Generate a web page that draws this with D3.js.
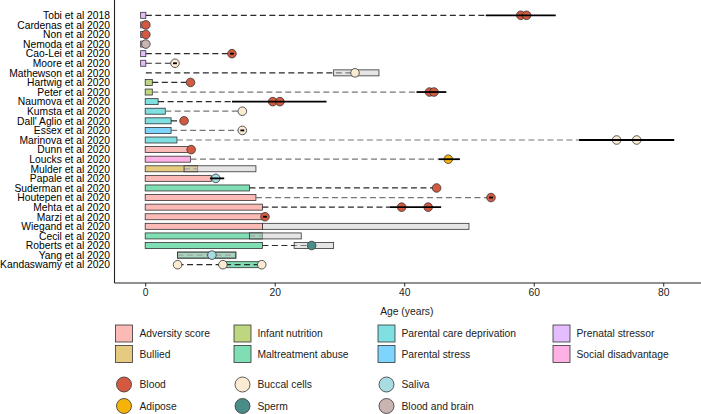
<!DOCTYPE html>
<html><head><meta charset="utf-8">
<script src="https://cdn.jsdelivr.net/npm/d3@7"></script>
<style>
body{margin:0;background:#fff;}
text{font-family:"Liberation Sans",Arial,Helvetica,sans-serif;}
</style></head><body>
<svg id="chart" width="701" height="414"></svg>
<script>
const studies = ["Tobi et al 2018","Cardenas et al 2020","Non et al 2020","Nemoda et al 2020","Cao-Lei et al 2020","Moore et al 2020","Mathewson et al 2020","Hartwig et al 2020","Peter et al 2020","Naumova et al 2020","Kumsta et al 2020","Dall' Aglio et al 2020","Essex et al 2020","Marinova et al 2020","Dunn et al 2020","Loucks et al 2020","Mulder et al 2020","Papale et al 2020","Suderman et al 2020","Houtepen et al 2020","Mehta et al 2020","Marzi et al 2020","Wiegand et al 2020","Cecil et al 2020","Roberts et al 2020","Yang et al 2020","Kandaswamy et al 2020"];

const exposureCategories = ["Adversity score","Bullied","Infant nutrition","Maltreatment abuse","Parental care deprivation","Parental stress","Prenatal stressor","Social disadvantage"];
const exposureColors = ["#FBBAB6","#E6CA80","#BDD67F","#7FDEB3","#7FDFE1","#7FD4FF","#E3BDFF","#FFB0E5"];
const tissueCategories = ["Blood","Adipose","Buccal cells","Sperm","Saliva","Blood and brain"];
const tissueColors = ["#D35A40","#F5B30A","#FBEBD3","#4A8C88","#A6DCE2","#C9B4B1"];

const exposureType = ["Prenatal stressor","Prenatal stressor","Prenatal stressor","Prenatal stressor","Prenatal stressor","Prenatal stressor",null,"Infant nutrition","Infant nutrition","Parental care deprivation","Parental care deprivation","Parental care deprivation","Parental stress","Parental care deprivation","Adversity score","Social disadvantage","Bullied","Adversity score","Maltreatment abuse","Adversity score","Adversity score","Adversity score","Adversity score","Maltreatment abuse","Maltreatment abuse","Maltreatment abuse","Maltreatment abuse"];
const exposureStart = [-0.7,-0.7,-0.7,-0.7,-0.7,-0.7,0.1,0,0,0,0,0,0,0,0,0,0,0,0,0,0,0,0,0,0,5.0,12.0];
const exposureEnd = [0.1,0.1,0.1,0.1,0.1,0.1,0.1,1.1,1.1,2.0,3.1,4.0,4.0,4.9,6.9,7.0,8.1,10.2,16.1,17.1,18.1,18.1,18.1,18.1,18.1,14.0,17.9];

const dashFrom = [0.1,null,null,null,0.1,0.1,0.1,1.1,1.1,2.0,3.1,4.0,4.0,4.9,null,7.0,6.0,null,16.1,17.1,18.1,null,null,16.1,18.1,5.0,5.0];
const dashTo = [52.6,null,null,null,13.4,4.6,32.4,7.0,41.9,13.4,15.0,6.0,15.0,67.0,null,45.3,8.1,null,45.0,53.4,37.8,null,null,18.1,25.7,14.0,18.0];
const dashTone = ["dark",null,null,null,"dark","dark","dark","dark","gray","dark","gray","dark","gray","gray",null,"gray","gray",null,"dark","gray","dark",null,null,"gray","dark","gray","dark"];

const grayStart = [null,null,null,null,null,null,29.1,null,null,null,null,null,null,null,null,null,6.0,null,null,null,null,null,18.1,16.1,23.0,5.0,null];
const grayEnd = [null,null,null,null,null,null,36.1,null,null,null,null,null,null,null,null,null,17.1,null,null,null,null,null,50.0,24.1,29.1,14.0,null];

const pointAges = [[58.0,58.9],[0.1],[0.1],[0.1],[13.4],[4.6],[32.4],[7.0],[43.9,44.6],[19.7,20.8],[15.0],[6.0],[15.0],[72.8,75.9],[7.1],[46.8],[],[10.9],[45.0],[53.4],[39.6,43.7],[18.5],[],[],[25.7],[10.3],[5.0,12.0,18.0]];
const tissue = ["Blood","Blood","Blood","Blood and brain","Blood","Buccal cells","Buccal cells","Blood","Blood","Blood","Buccal cells","Blood","Buccal cells","Buccal cells","Blood","Adipose",null,"Saliva","Blood","Blood","Blood","Blood",null,null,"Sperm","Saliva","Buccal cells"];

const rangeLo = [52.6,null,null,null,13.1,4.3,null,null,41.9,13.4,null,null,14.7,67.0,null,45.3,null,10.0,null,53.1,37.8,18.2,null,null,null,null,null];
const rangeHi = [63.4,null,null,null,13.7,4.9,null,null,46.5,28.0,null,null,15.3,81.7,null,48.6,null,12.2,null,53.7,45.7,18.8,null,null,null,null,null];

const xTicks = [0,20,40,60,80];
const xTitle = "Age (years)";

const svg = d3.select("#chart");
const x = d3.scaleLinear().domain([-4.74, 85.8]).range([114.5, 700.8]);
const y = d3.scalePoint().domain(studies).range([15.3, 264.7]);
const expColor = d3.scaleOrdinal().domain(exposureCategories).range(exposureColors);
const tisColor = d3.scaleOrdinal().domain(tissueCategories).range(tissueColors);
const axisY = 283, boxH = 6, ptR = 4.3, stroke = "#333";

const rows = studies.map((s,i)=>({s,i}));
const g = svg.append("g");

// exposure boxes
g.selectAll("rect.exp").data(rows).join("rect").attr("class","exp")
 .attr("x",d=>x(exposureStart[d.i]))
 .attr("width",d=>Math.max(0,x(exposureEnd[d.i])-x(exposureStart[d.i])))
 .attr("y",d=>y(d.s)-boxH/2).attr("height",boxH)
 .attr("fill",d=>exposureType[d.i]?expColor(exposureType[d.i]):"none")
 .attr("stroke",stroke).attr("stroke-width",0.8);

// dashed connectors
g.selectAll("line.dash").data(rows.filter(d=>dashFrom[d.i]!==null)).join("line").attr("class","dash")
 .attr("x1",d=>x(dashFrom[d.i])).attr("x2",d=>x(dashTo[d.i]))
 .attr("y1",d=>y(d.s)).attr("y2",d=>y(d.s))
 .attr("stroke",d=>dashTone[d.i]==="dark"?"#2a2a2a":"#777777")
 .attr("stroke-width",1.2).attr("stroke-dasharray","6,3.5");

// gray boxes
g.selectAll("rect.gray").data(rows.filter(d=>grayStart[d.i]!==null)).join("rect").attr("class","gray")
 .attr("x",d=>x(grayStart[d.i])).attr("width",d=>x(grayEnd[d.i])-x(grayStart[d.i]))
 .attr("y",d=>y(d.s)-boxH/2).attr("height",boxH)
 .attr("fill","#cccccc").attr("fill-opacity",0.5)
 .attr("stroke",stroke).attr("stroke-width",0.8);

// points
const pts = [];
rows.forEach(d=>pointAges[d.i].forEach(a=>pts.push({s:d.s,a,t:tissue[d.i]})));
g.selectAll("circle.pt").data(pts).join("circle").attr("class","pt")
 .attr("cx",d=>x(d.a)).attr("cy",d=>y(d.s)).attr("r",ptR)
 .attr("fill",d=>tisColor(d.t)).attr("stroke",stroke).attr("stroke-width",0.8);

// age ranges
g.selectAll("line.rng").data(rows.filter(d=>rangeLo[d.i]!==null)).join("line").attr("class","rng")
 .attr("x1",d=>x(rangeLo[d.i])).attr("x2",d=>x(rangeHi[d.i]))
 .attr("y1",d=>y(d.s)).attr("y2",d=>y(d.s))
 .attr("stroke","#000").attr("stroke-width",1.8);

// axes
const ya = svg.append("g").attr("transform","translate(114.5,0)")
 .call(d3.axisLeft(y).tickSize(0).tickPadding(4.5));
ya.select(".domain").remove();
ya.selectAll("text").attr("font-size","10.3px").attr("fill","#000")
 .style("font-family","'Liberation Sans',Arial,sans-serif");
svg.append("line").attr("x1",114.5).attr("x2",114.5).attr("y1",0).attr("y2",axisY)
 .attr("stroke","#222").attr("stroke-width",1.1);

const xa = svg.append("g").attr("transform",`translate(0,${axisY})`)
 .call(d3.axisBottom(x).tickValues(xTicks).tickSize(3.5).tickPadding(2.5));
xa.select(".domain").remove();
xa.selectAll("line").attr("stroke","#222");
xa.selectAll("text").attr("font-size","10.3px").attr("fill","#222")
 .style("font-family","'Liberation Sans',Arial,sans-serif");
svg.append("line").attr("x1",114.5).attr("x2",701).attr("y1",axisY).attr("y2",axisY)
 .attr("stroke","#222").attr("stroke-width",1.1);

svg.append("text").attr("x",x(40.4)).attr("y",314.5).attr("text-anchor","middle")
 .attr("font-size","10.3px").attr("fill","#222").text(xTitle);

// legends
const colX = [115.5,234,378,553];
const textX = [139.5,257.5,401.5,576.5];
const sqRowY = [333.5,354];
exposureCategories.forEach((c,k)=>{
  const col = Math.floor(k/2), row = k%2;
  svg.append("rect").attr("x",colX[col]).attr("y",sqRowY[row]-8.5).attr("width",17).attr("height",17)
   .attr("fill",expColor(c)).attr("stroke",stroke).attr("stroke-width",0.8);
  svg.append("text").attr("x",textX[col]).attr("y",sqRowY[row]+3.6)
   .attr("font-size","10.3px").attr("fill","#222").text(c);
});
const circRowY = [384.5,406];
tissueCategories.forEach((c,k)=>{
  const col = Math.floor(k/2), row = k%2;
  svg.append("circle").attr("cx",colX[col]+8.5).attr("cy",circRowY[row]).attr("r",7.5)
   .attr("fill",tisColor(c)).attr("stroke",stroke).attr("stroke-width",0.8);
  svg.append("text").attr("x",textX[col]).attr("y",circRowY[row]+3.6)
   .attr("font-size","10.3px").attr("fill","#222").text(c);
});
</script>
</body></html>
